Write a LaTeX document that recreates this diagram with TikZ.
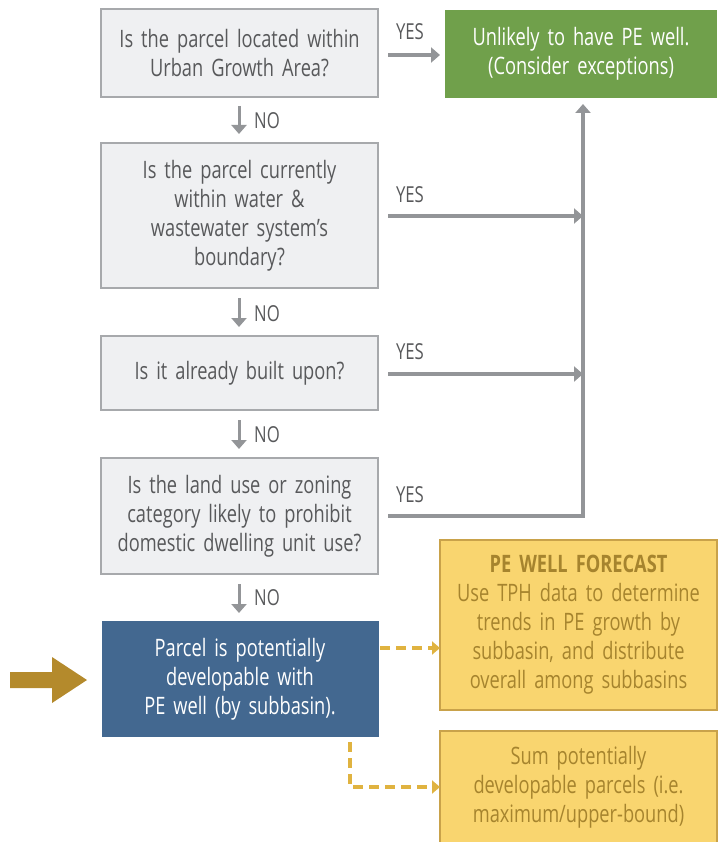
\documentclass[tikz,border=0pt]{standalone}
\usepackage{fontspec}
\setmainfont{Open Sans}[FakeStretch=0.76]
\usetikzlibrary{arrows.meta,positioning}
\definecolor{boxfill}{HTML}{EFF0F2}
\definecolor{boxline}{HTML}{A7A9AC}
\definecolor{arrgray}{HTML}{939598}
\definecolor{txtgray}{HTML}{58595B}
\definecolor{greenbox}{HTML}{70A04B}
\definecolor{bluebox}{HTML}{436890}
\definecolor{yelfill}{HTML}{F9D56F}
\definecolor{yelline}{HTML}{C9A24A}
\definecolor{yeltext}{HTML}{A6842E}
\definecolor{yeldash}{HTML}{E0B340}
\definecolor{bigarrow}{HTML}{B48A2C}
\newcommand{\boxfont}{\fontsize{24}{29}\selectfont\spaceskip=0.17em plus 0.05em\relax}
\tikzset{
  x=1pt,y=-1pt,
  qbox/.style={draw=boxline,line width=1.5pt,fill=boxfill,text=txtgray,minimum width=277pt,
    text width=270pt,align=center,font=\boxfont,inner sep=0pt},
  ybox/.style={draw=yelline,line width=1.5pt,fill=yelfill,text=yeltext,minimum width=277pt,
    text width=272pt,align=center,font=\boxfont,inner sep=0pt},
  garrow/.style={draw=arrgray,line width=3.5pt,-{Triangle[length=9pt,width=15pt]}},
  gline/.style={draw=arrgray,line width=3.5pt},
  yarrow/.style={draw=yeldash,line width=3.2pt,dash pattern=on 10pt off 6pt,-{Triangle[length=8pt,width=13pt]}},
  lbl/.style={text=txtgray,font=\fontsize{22}{22}\selectfont,inner sep=0pt},
}
\begin{document}
\begin{tikzpicture}
\useasboundingbox (0,0) rectangle (717,842);
% boxes
\node[qbox,minimum height=88pt] (q1) at (239.5,53) {Is the parcel located within\\Urban Growth Area?};
\node[draw=none,fill=greenbox,text=white,minimum width=272pt,minimum height=88pt,text width=268pt,align=center,
  font=\boxfont,inner sep=0pt] (g) at (581,54) {Unlikely to have PE well.\\(Consider exceptions)};
\node[qbox,minimum height=145pt] (q2) at (239.5,215.5) {Is the parcel currently\\within water \&\\wastewater system’s\\boundary?};
\node[qbox,minimum height=74pt] (q3) at (239.5,373) {Is it already built upon?};
\node[qbox,minimum height=116pt] (q4) at (239.5,516) {Is the land use or zoning\\category likely to prohibit\\domestic dwelling unit use?};
\node[fill=bluebox,text=white,minimum width=277pt,minimum height=116pt,text width=268pt,align=center,
  font=\boxfont,inner sep=0pt] (b) at (240,679) {Parcel is potentially\\developable with\\PE well (by subbasin).};
\node[ybox,minimum height=170pt] (y1) at (578.5,625) {\textbf{PE WELL FORECAST}\\Use TPH data to determine\\trends in PE growth by\\subbasin, and distribute\\overall among subbasins};
\node[ybox,minimum height=112pt] (y2) at (578.5,787) {Sum potentially\\developable parcels (i.e.\\maximum/upper-bound)};
% NO arrows
\coordinate (n1a) at (239,106); \coordinate (n1b) at (239,134);
\coordinate (n2a) at (239,298); \coordinate (n2b) at (239,327);
\coordinate (n3a) at (239,420); \coordinate (n3b) at (239,449);
\coordinate (n4a) at (239,584); \coordinate (n4b) at (239,613);
\draw[garrow,line width=3pt] (n1a) -- (n1b);
\draw[garrow,line width=3pt] (n2a) -- (n2b);
\draw[garrow,line width=3pt] (n3a) -- (n3b);
\draw[garrow,line width=3pt] (n4a) -- (n4b);
\node[lbl,anchor=west] (no1) at (254,121) {NO};
\node[lbl,anchor=west] (no2) at (254,314) {NO};
\node[lbl,anchor=west] (no3) at (254,435) {NO};
\node[lbl,anchor=west] (no4) at (254,598) {NO};
% YES arrows
\coordinate (y1s) at (388,55); \coordinate (y1e) at (440,55);
\draw[garrow] (y1s) -- (y1e);
\node[lbl] (yes1) at (410,32) {YES};
\coordinate (up) at (583,104);
\coordinate (corner) at (583,516);
\coordinate (y2s) at (388,216); \coordinate (y2e) at (583,216);
\coordinate (y3s) at (388,374); \coordinate (y3e) at (583,374);
\coordinate (y4s) at (388,516);
\draw[gline,-{Triangle[length=9pt,width=15pt]}] (y4s) -- (corner) -- (up);
\draw[garrow] (y2s) -- (y2e);
\draw[garrow] (y3s) -- (y3e);
\node[lbl] (yes2) at (410,195) {YES};
\node[lbl] (yes3) at (410,352) {YES};
\node[lbl] (yes4) at (410,495) {YES};
% yellow dashed
\coordinate (d1s) at (380,648); \coordinate (d1e) at (440,648);
\draw[yarrow] (d1s) -- (d1e);
\coordinate (d2s) at (350,742); \coordinate (d2c) at (350,787); \coordinate (d2e) at (440,787);
\draw[yarrow] (d2s) -- (d2c) -- (d2e);
% big arrow
\fill[bigarrow] (10,672) -- (52,672) -- (52,657) -- (87,680) -- (52,703) -- (52,688) -- (10,688) -- cycle;
\end{tikzpicture}
\end{document}
